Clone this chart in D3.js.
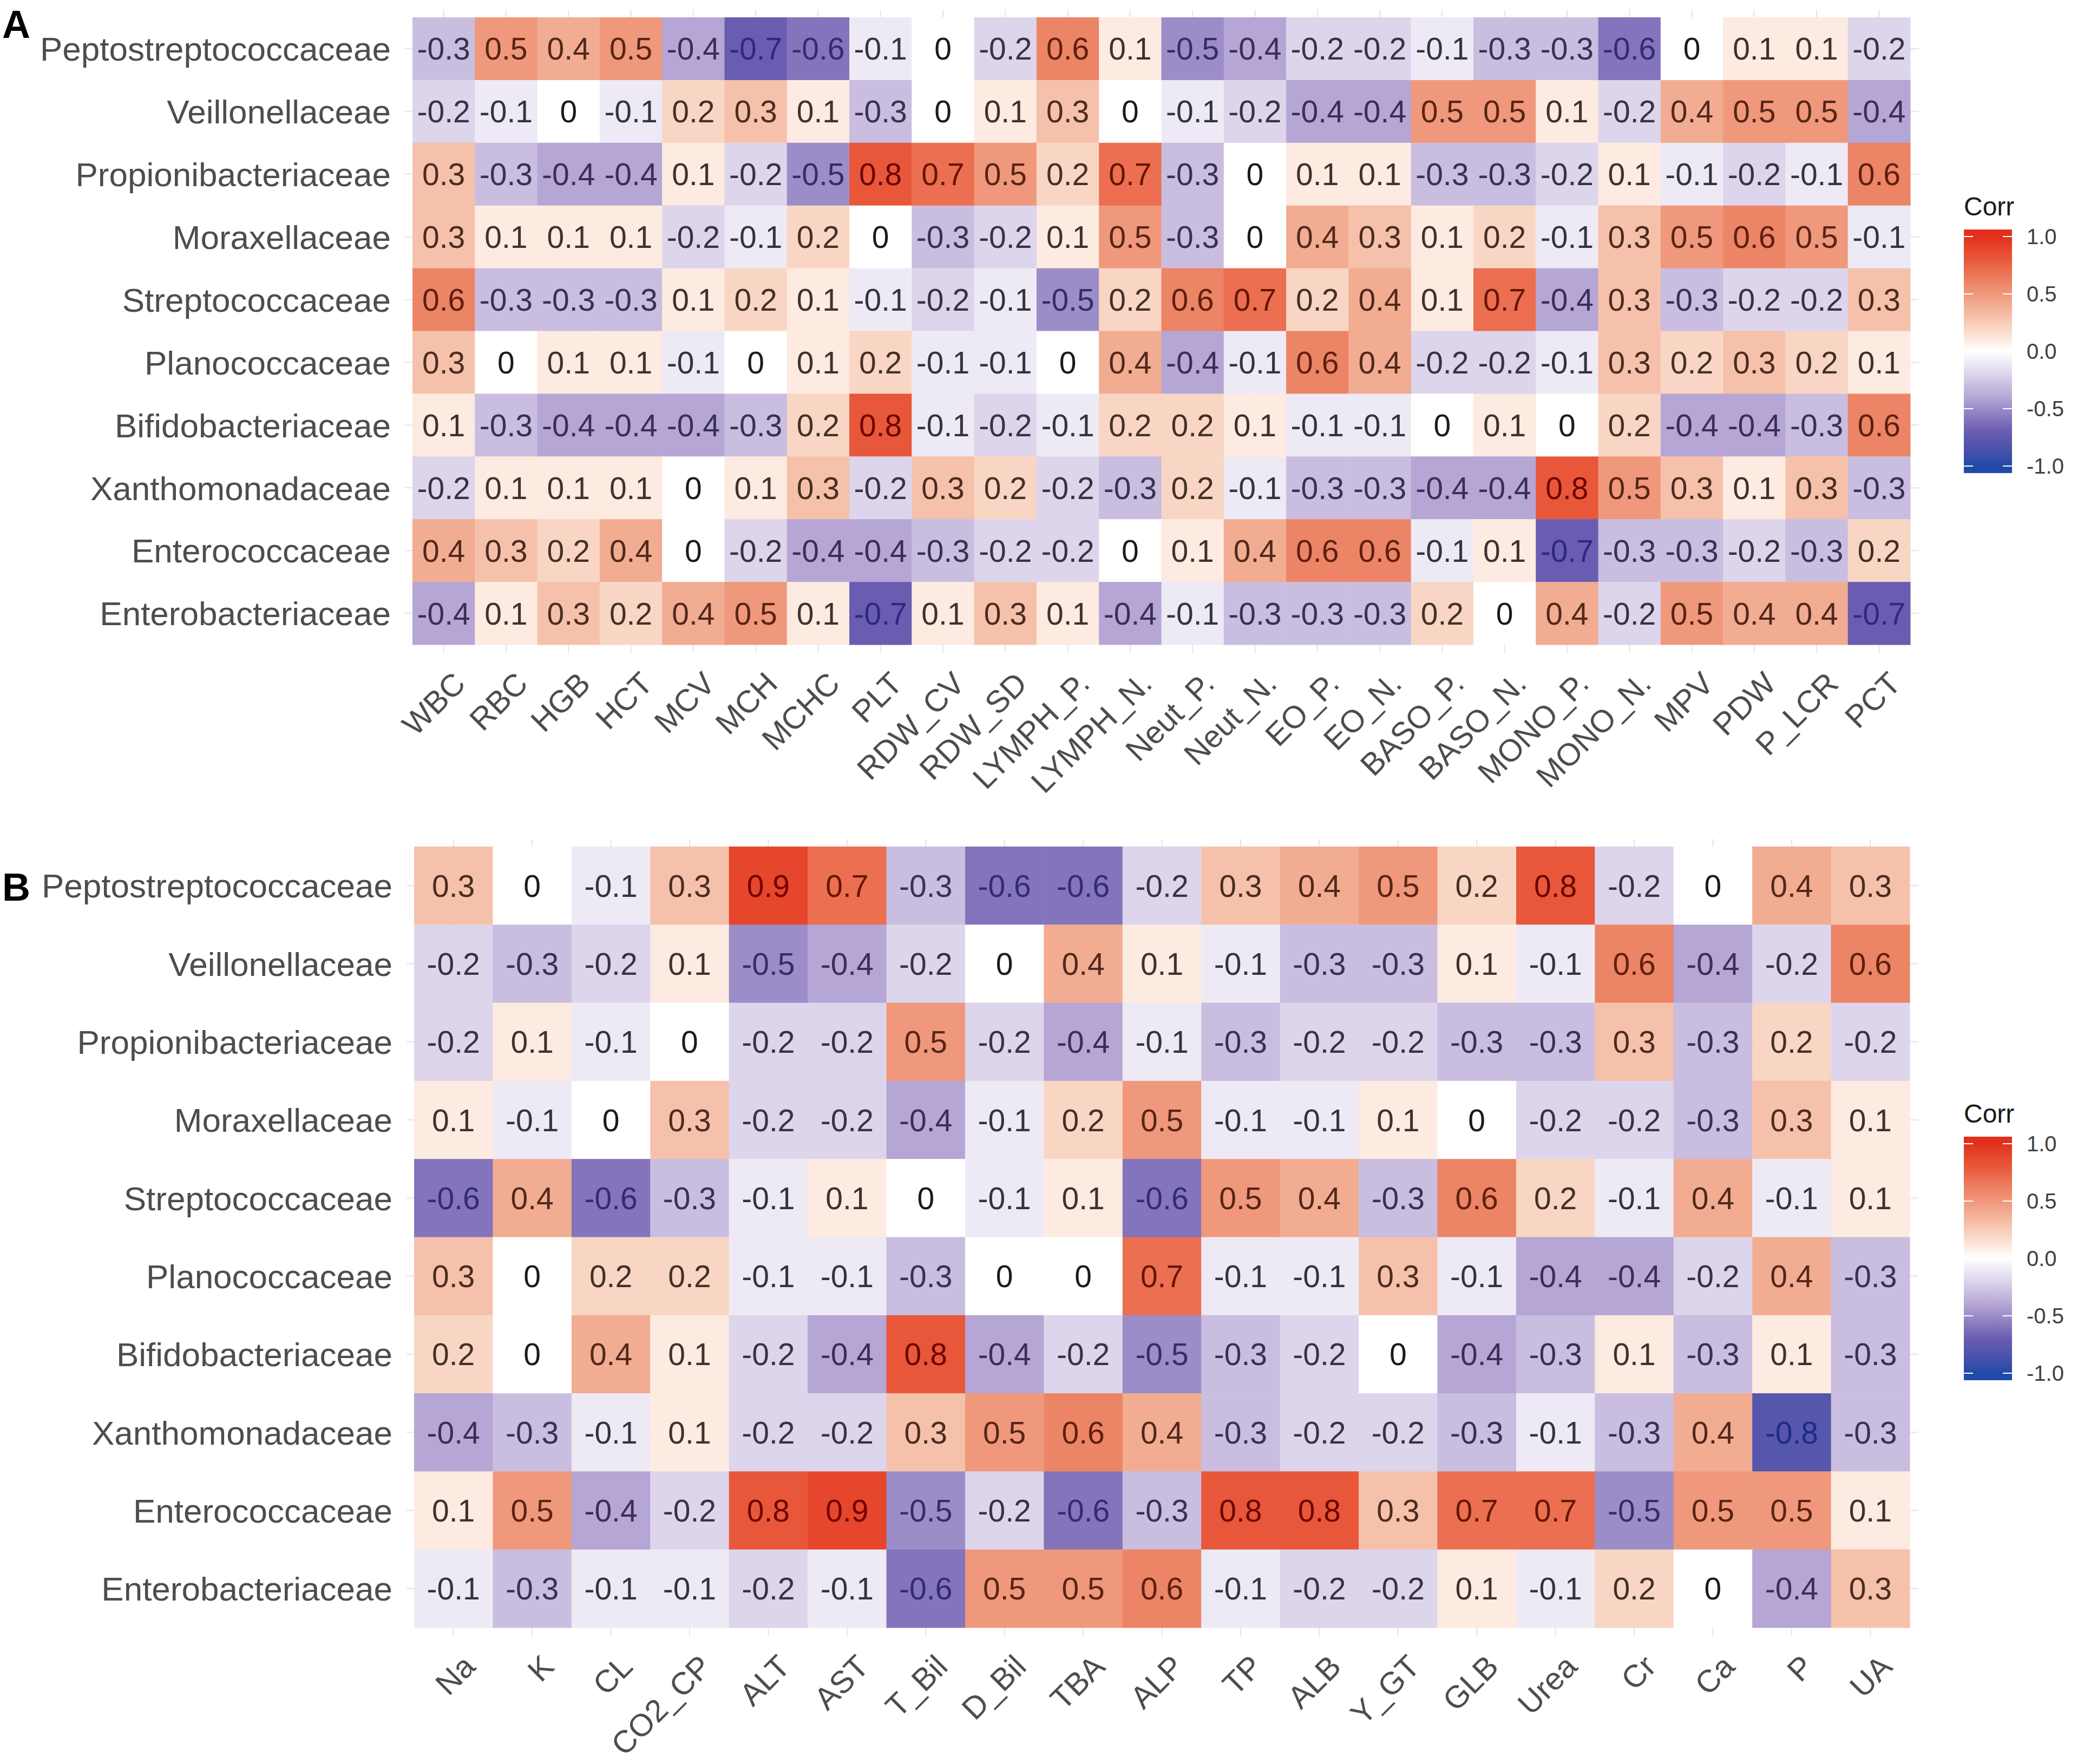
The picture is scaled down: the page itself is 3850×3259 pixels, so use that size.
<!DOCTYPE html>
<html>
<head>
<meta charset="utf-8">
<script src="https://cdn.jsdelivr.net/npm/d3@7"></script>
<style>
  html, body { margin: 0; padding: 0; background: #fff; }
  svg text { font-family: "Liberation Sans", Arial, sans-serif; }
</style>
</head>
<body>
<svg id="chart" width="3850" height="3259"></svg>
<script>
// Rows shared by both panels (top to bottom)
const taxa = [
  'Peptostreptococcaceae', 'Veillonellaceae', 'Propionibacteriaceae', 'Moraxellaceae',
  'Streptococcaceae', 'Planococcaceae', 'Bifidobacteriaceae', 'Xanthomonadaceae',
  'Enterococcaceae', 'Enterobacteriaceae'
];

// Panel A: blood routine indices
const bloodVars = [
  'WBC', 'RBC', 'HGB', 'HCT', 'MCV', 'MCH', 'MCHC', 'PLT', 'RDW_CV', 'RDW_SD',
  'LYMPH_P.', 'LYMPH_N.', 'Neut_P.', 'Neut_N.', 'EO_P.', 'EO_N.', 'BASO_P.', 'BASO_N.',
  'MONO_P.', 'MONO_N.', 'MPV', 'PDW', 'P_LCR', 'PCT'
];
const bloodCorr = [
  [-0.3, 0.5, 0.4, 0.5, -0.4, -0.7, -0.6, -0.1, 0, -0.2, 0.6, 0.1, -0.5, -0.4, -0.2, -0.2, -0.1, -0.3, -0.3, -0.6, 0, 0.1, 0.1, -0.2],
  [-0.2, -0.1, 0, -0.1, 0.2, 0.3, 0.1, -0.3, 0, 0.1, 0.3, 0, -0.1, -0.2, -0.4, -0.4, 0.5, 0.5, 0.1, -0.2, 0.4, 0.5, 0.5, -0.4],
  [0.3, -0.3, -0.4, -0.4, 0.1, -0.2, -0.5, 0.8, 0.7, 0.5, 0.2, 0.7, -0.3, 0, 0.1, 0.1, -0.3, -0.3, -0.2, 0.1, -0.1, -0.2, -0.1, 0.6],
  [0.3, 0.1, 0.1, 0.1, -0.2, -0.1, 0.2, 0, -0.3, -0.2, 0.1, 0.5, -0.3, 0, 0.4, 0.3, 0.1, 0.2, -0.1, 0.3, 0.5, 0.6, 0.5, -0.1],
  [0.6, -0.3, -0.3, -0.3, 0.1, 0.2, 0.1, -0.1, -0.2, -0.1, -0.5, 0.2, 0.6, 0.7, 0.2, 0.4, 0.1, 0.7, -0.4, 0.3, -0.3, -0.2, -0.2, 0.3],
  [0.3, 0, 0.1, 0.1, -0.1, 0, 0.1, 0.2, -0.1, -0.1, 0, 0.4, -0.4, -0.1, 0.6, 0.4, -0.2, -0.2, -0.1, 0.3, 0.2, 0.3, 0.2, 0.1],
  [0.1, -0.3, -0.4, -0.4, -0.4, -0.3, 0.2, 0.8, -0.1, -0.2, -0.1, 0.2, 0.2, 0.1, -0.1, -0.1, 0, 0.1, 0, 0.2, -0.4, -0.4, -0.3, 0.6],
  [-0.2, 0.1, 0.1, 0.1, 0, 0.1, 0.3, -0.2, 0.3, 0.2, -0.2, -0.3, 0.2, -0.1, -0.3, -0.3, -0.4, -0.4, 0.8, 0.5, 0.3, 0.1, 0.3, -0.3],
  [0.4, 0.3, 0.2, 0.4, 0, -0.2, -0.4, -0.4, -0.3, -0.2, -0.2, 0, 0.1, 0.4, 0.6, 0.6, -0.1, 0.1, -0.7, -0.3, -0.3, -0.2, -0.3, 0.2],
  [-0.4, 0.1, 0.3, 0.2, 0.4, 0.5, 0.1, -0.7, 0.1, 0.3, 0.1, -0.4, -0.1, -0.3, -0.3, -0.3, 0.2, 0, 0.4, -0.2, 0.5, 0.4, 0.4, -0.7]
];

// Panel B: biochemical indices
const bioVars = [
  'Na', 'K', 'CL', 'CO2_CP', 'ALT', 'AST', 'T_Bil', 'D_Bil', 'TBA', 'ALP',
  'TP', 'ALB', 'Y_GT', 'GLB', 'Urea', 'Cr', 'Ca', 'P', 'UA'
];
const bioCorr = [
  [0.3, 0, -0.1, 0.3, 0.9, 0.7, -0.3, -0.6, -0.6, -0.2, 0.3, 0.4, 0.5, 0.2, 0.8, -0.2, 0, 0.4, 0.3],
  [-0.2, -0.3, -0.2, 0.1, -0.5, -0.4, -0.2, 0, 0.4, 0.1, -0.1, -0.3, -0.3, 0.1, -0.1, 0.6, -0.4, -0.2, 0.6],
  [-0.2, 0.1, -0.1, 0, -0.2, -0.2, 0.5, -0.2, -0.4, -0.1, -0.3, -0.2, -0.2, -0.3, -0.3, 0.3, -0.3, 0.2, -0.2],
  [0.1, -0.1, 0, 0.3, -0.2, -0.2, -0.4, -0.1, 0.2, 0.5, -0.1, -0.1, 0.1, 0, -0.2, -0.2, -0.3, 0.3, 0.1],
  [-0.6, 0.4, -0.6, -0.3, -0.1, 0.1, 0, -0.1, 0.1, -0.6, 0.5, 0.4, -0.3, 0.6, 0.2, -0.1, 0.4, -0.1, 0.1],
  [0.3, 0, 0.2, 0.2, -0.1, -0.1, -0.3, 0, 0, 0.7, -0.1, -0.1, 0.3, -0.1, -0.4, -0.4, -0.2, 0.4, -0.3],
  [0.2, 0, 0.4, 0.1, -0.2, -0.4, 0.8, -0.4, -0.2, -0.5, -0.3, -0.2, 0, -0.4, -0.3, 0.1, -0.3, 0.1, -0.3],
  [-0.4, -0.3, -0.1, 0.1, -0.2, -0.2, 0.3, 0.5, 0.6, 0.4, -0.3, -0.2, -0.2, -0.3, -0.1, -0.3, 0.4, -0.8, -0.3],
  [0.1, 0.5, -0.4, -0.2, 0.8, 0.9, -0.5, -0.2, -0.6, -0.3, 0.8, 0.8, 0.3, 0.7, 0.7, -0.5, 0.5, 0.5, 0.1],
  [-0.1, -0.3, -0.1, -0.1, -0.2, -0.1, -0.6, 0.5, 0.5, 0.6, -0.1, -0.2, -0.2, 0.1, -0.1, 0.2, 0, -0.4, 0.3]
];

const legendTicks = [1.0, 0.5, 0.0, -0.5, -1.0];

// diverging fill
const color = d3.scaleLinear()
  .domain([-1, -0.7, -0.4, -0.2, 0, 0.2, 0.4, 0.6, 0.8, 1])
  .range(['#1f4aa8', '#6a5cb0', '#b5a6d5', '#ddd5eb', '#ffffff',
          '#f9d6c4', '#f2ac92', '#ec8466', '#e8573a', '#e3301c'])
  .interpolate(d3.interpolateLab)
  .clamp(true);

// cell labels look like a dark tint of the cell colour
function textColor(v) {
  if (v === 0) return '#1a1a1a';
  const c = d3.lab(color(v));
  const k = v < 0 ? 1.1 : 0.75;
  return d3.lab(22, c.a * k, c.b * k).formatHex();
}

const svg = d3.select('#chart');

function drawPanel(cfg) {
  const g = svg.append('g');
  const { x0, x1, y0, y1 } = cfg.box;

  const x = d3.scaleBand().domain(cfg.cols).range([x0, x1]);
  const y = d3.scaleBand().domain(taxa).range([y0, y1]);

  // faint grid behind tiles (theme_minimal)
  g.selectAll('.vgrid')
    .data(cfg.cols)
    .join('line')
    .attr('x1', d => x(d) + x.bandwidth() / 2)
    .attr('x2', d => x(d) + x.bandwidth() / 2)
    .attr('y1', y0 - 14).attr('y2', y1 + 16)
    .attr('stroke', '#e4e4e4').attr('stroke-width', 2);
  g.selectAll('.hgrid')
    .data(taxa)
    .join('line')
    .attr('y1', d => y(d) + y.bandwidth() / 2)
    .attr('y2', d => y(d) + y.bandwidth() / 2)
    .attr('x1', x0 - 14).attr('x2', x1 + 16)
    .attr('stroke', '#e4e4e4').attr('stroke-width', 2);

  const cells = taxa.flatMap((t, i) => cfg.cols.map((c, j) => ({ t, c, v: cfg.values[i][j] })));

  g.selectAll('.tile')
    .data(cells)
    .join('rect')
    .attr('x', d => x(d.c))
    .attr('y', d => y(d.t))
    .attr('width', x.bandwidth() + 0.5)
    .attr('height', y.bandwidth() + 0.5)
    .attr('fill', d => color(d.v));

  g.selectAll('.lab')
    .data(cells)
    .join('text')
    .attr('x', d => x(d.c) + x.bandwidth() / 2)
    .attr('y', d => y(d.t) + y.bandwidth() / 2)
    .attr('dy', '0.36em')
    .attr('text-anchor', 'middle')
    .attr('font-size', cfg.cellFont)
    .attr('fill', d => textColor(d.v))
    .text(d => String(d.v));

  // row labels
  g.selectAll('.rowlab')
    .data(taxa)
    .join('text')
    .attr('x', x0 - 40)
    .attr('y', d => y(d) + y.bandwidth() / 2)
    .attr('dy', '0.36em')
    .attr('text-anchor', 'end')
    .attr('font-size', 62)
    .attr('fill', '#4d4d4d')
    .text(d => d);

  // column labels, 45 degrees
  g.selectAll('.collab')
    .data(cfg.cols)
    .join('text')
    .attr('transform', d => `translate(${x(d) + x.bandwidth() / 2 + 14},${y1 + 46}) rotate(-45)`)
    .attr('dy', '0.72em')
    .attr('text-anchor', 'end')
    .attr('font-size', 58)
    .attr('fill', '#4d4d4d')
    .text(d => d);

  // panel letter
  g.append('text')
    .attr('x', 4).attr('y', cfg.letterY)
    .attr('font-size', 72).attr('font-weight', 'bold')
    .attr('fill', '#000')
    .text(cfg.letter);

  drawLegend(cfg.legend);
}

function drawLegend(L) {
  const g = svg.append('g');
  const barW = 89, barH = 450, pad = 13;
  const s = d3.scaleLinear().domain([1, -1]).range([L.top + pad, L.top + barH - pad]);

  const id = 'grad' + L.top;
  const grad = svg.append('defs').append('linearGradient')
    .attr('id', id).attr('x1', 0).attr('x2', 0).attr('y1', 0).attr('y2', 1);
  d3.range(1, -1.0001, -0.05).forEach(v => {
    grad.append('stop')
      .attr('offset', ((s(v) - L.top) / barH * 100).toFixed(2) + '%')
      .attr('stop-color', color(v));
  });

  g.append('text')
    .attr('x', L.x).attr('y', L.top - 26)
    .attr('font-size', 48).attr('fill', '#1a1a1a')
    .text('Corr');

  g.append('rect')
    .attr('x', L.x).attr('y', L.top)
    .attr('width', barW).attr('height', barH)
    .attr('fill', `url(#${id})`);

  // white tick marks on both edges of the bar
  g.selectAll('.tk')
    .data(legendTicks.flatMap(v => [[v, L.x, L.x + 17], [v, L.x + barW - 17, L.x + barW]]))
    .join('line')
    .attr('x1', d => d[1]).attr('x2', d => d[2])
    .attr('y1', d => s(d[0])).attr('y2', d => s(d[0]))
    .attr('stroke', '#fff').attr('stroke-width', 2);

  g.selectAll('.tl')
    .data(legendTicks)
    .join('text')
    .attr('x', L.x + barW + 27)
    .attr('y', d => s(d))
    .attr('dy', '0.36em')
    .attr('font-size', 40)
    .attr('fill', '#404040')
    .text(d => d3.format('.1f')(d).replace('\u2212', '-'));
}

drawPanel({
  cols: bloodVars, values: bloodCorr,
  box: { x0: 762, x1: 3529, y0: 32, y1: 1191 },
  cellFont: 57, letter: 'A', letterY: 70,
  legend: { x: 3628, top: 424 }
});

drawPanel({
  cols: bioVars, values: bioCorr,
  box: { x0: 765, x1: 3528, y0: 1564, y1: 3007 },
  cellFont: 57, letter: 'B', letterY: 1664,
  legend: { x: 3628, top: 2100 }
});
</script>
</body>
</html>
